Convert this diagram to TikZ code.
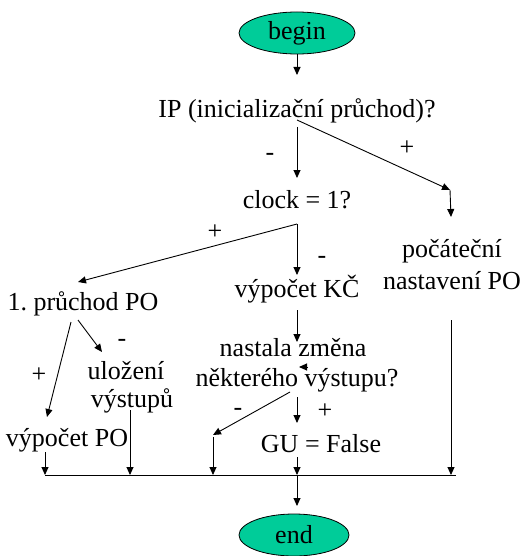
\documentclass[tikz,border=0pt]{standalone}
\usepackage{fontspec}
\setmainfont{Liberation Serif}
\usetikzlibrary{arrows.meta,shapes.geometric}
\definecolor{termfill}{RGB}{0,204,153}
\frenchspacing
\begin{document}
\begin{tikzpicture}[x=1pt,y=-1pt,
  txt/.style={inner sep=0pt,anchor=base,font=\fontsize{26}{31}\selectfont},
  sign/.style={inner sep=0pt,font=\fontsize{26}{31}\selectfont},
  term/.style={ellipse,draw=black,line width=0.8pt,fill=termfill,
    minimum width=116pt,minimum height=42pt,inner sep=0pt,
    font=\fontsize{26}{31}\selectfont},
  flow/.style={draw=black,line width=0.9pt,-{Triangle[length=8pt,width=7pt]}},
  wire/.style={draw=black,line width=0.9pt}]
\useasboundingbox (0,0) rectangle (526,556);

% terminals
\node[term] (begin) at (297,33) {begin};
\node[term,minimum width=110pt] (end) at (294,535) {end};

% steps and questions
\node[txt] (ip)    at (297,118) {IP (inicializační průchod)?};
\node[txt] (clock) at (297,208) {clock = 1?};
\node[txt] (poc1)  at (452,257) {počáteční};
\node[txt] (poc2)  at (452,289) {nastavení PO};
\node[txt] (prv)   at (83,310)  {1. průchod PO};
\node[txt] (kc)    at (297,297) {výpočet KČ};
\node[txt] (zm1)   at (293,356) {nastala změna};
\node[txt] (zm2)   at (297,386) {některého výstupu?};
\node[txt] (ul1)   at (126,379) {uložení};
\node[txt] (ul2)   at (132,407) {výstupů};
\node[txt] (vpo)   at (67,446)  {výpočet PO};
\node[txt] (gu)    at (321,452) {GU = False};

% branch signs
\node[sign] (sIPm)  at (270,157) {-};
\node[sign] (sIPp)  at (407,148) {+};
\node[sign] (sCp)   at (215,232) {+};
\node[sign] (sCm)   at (322,260) {-};
\node[sign] (sPm)   at (122,343) {-};
\node[sign] (sPp)   at (39,375)  {+};
\node[sign] (sZm)   at (238,412) {-};
\node[sign] (sZp)   at (325,411) {+};

% connector end points
\coordinate (ipIn)     at (297,75);
\coordinate (ipOut)    at (297,120);
\coordinate (ipMs)     at (297,127);
\coordinate (clkIn)    at (297,178);
\coordinate (ipPe)     at (450,190);
\coordinate (pocIn)    at (451,217);
\coordinate (clkOut)   at (297,224);
\coordinate (prvIn)    at (78,282);
\coordinate (kcIn)     at (297,275);
\coordinate (kcOut)    at (297,310);
\coordinate (zmIn)     at (297,342);
\coordinate (stubA)    at (308,367);
\coordinate (stubB)    at (299,367);
\coordinate (zmMs)     at (290,392);
\coordinate (zmMe)     at (213,435);
\coordinate (zmMd)     at (213,437);
\coordinate (zmPs)     at (297,397);
\coordinate (guIn)     at (297,423);
\coordinate (guOut)    at (297,457);
\coordinate (pocOut)   at (451,320);
\coordinate (prvA)     at (78,320);
\coordinate (ulIn)     at (102,352);
\coordinate (prvB)     at (71,322);
\coordinate (vpoIn)    at (47,417);
\coordinate (vpoOut)   at (45,452);
\coordinate (ulOut)    at (130,410);
\coordinate (busL)     at (45,475);
\coordinate (busR)     at (456,475);
\coordinate (busA)     at (45,475);
\coordinate (busB)     at (130,475);
\coordinate (busC)     at (213,475);
\coordinate (busD)     at (297,475);
\coordinate (busE)     at (451,475);
\coordinate (endIn)    at (297,506);

% connectors
\draw[flow] (begin.south) -- (ipIn);
\draw[flow] (ipMs) -- (clkIn);
\draw[flow] (ipOut) -- (ipPe);
\draw[flow] (ipPe) -- (pocIn);
\draw[flow] (clkOut) -- (prvIn);
\draw[flow] (clkOut) -- (kcIn);
\draw[flow] (kcOut) -- (zmIn);
\draw[flow] (stubA) -- (stubB);
\draw[flow] (zmMs) -- (zmMe);
\draw[flow] (zmMd) -- (busC);
\draw[flow] (zmPs) -- (guIn);
\draw[flow] (guOut) -- (busD);
\draw[flow] (pocOut) -- (busE);
\draw[flow] (prvA) -- (ulIn);
\draw[flow] (prvB) -- (vpoIn);
\draw[flow] (vpoOut) -- (busA);
\draw[flow] (ulOut) -- (busB);
\draw[wire] (busL) -- (busR);
\draw[flow] (busD) -- (endIn);
\end{tikzpicture}
\end{document}
